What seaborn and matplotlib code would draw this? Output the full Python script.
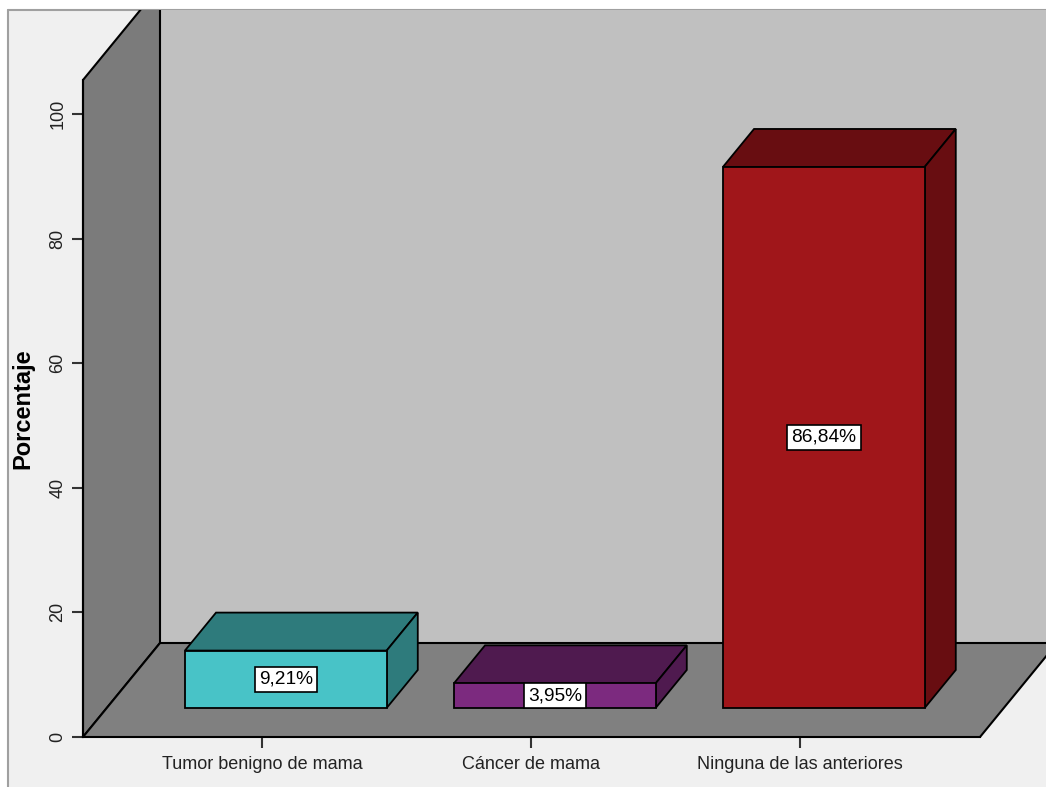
import matplotlib
matplotlib.use("Agg")
import matplotlib.pyplot as plt
import seaborn as sns
import pandas as pd
from matplotlib.patches import Polygon, Rectangle
from matplotlib.lines import Line2D

# ---- data ----
categories = ["Tumor benigno de mama", "Cáncer de mama", "Ninguna de las anteriores"]
values = [9.21, 3.95, 86.84]
value_labels = ["9,21%", "3,95%", "86,84%"]
y_ticks = [0, 20, 40, 60, 80, 100]
front_colors = ["#48c3c7", "#7c2a7f", "#a0161a"]
dark_colors = ["#2e7b7c", "#4f1a4f", "#680d11"]

sns.set_theme(style="white")
plt.rcParams["font.family"] = ["Liberation Sans", "DejaVu Sans"]

W, H = 1046, 787
fig = plt.figure(figsize=(W / 100, H / 100), dpi=100)
fig.patch.set_facecolor("white")

# frame background
frame = Rectangle((8 / W, 0), 1, (H - 10) / H, transform=fig.transFigure,
                  facecolor="#f0f0f0", edgecolor="none", zorder=-5)
fig.patches.append(frame)
fig.lines.append(Line2D([8 / W, 8 / W], [0, (H - 10) / H], transform=fig.transFigure,
                        color="#a0a0a0", lw=1.5, zorder=-4))
fig.lines.append(Line2D([8 / W, 1], [(H - 10) / H, (H - 10) / H], transform=fig.transFigure,
                        color="#a0a0a0", lw=1.5, zorder=-4))

# axes (front plane)
ax_left, ax_right, ax_bottom, ax_top = 83, 980, 737, 80
ax = fig.add_axes([ax_left / W, (H - ax_bottom) / H, (ax_right - ax_left) / W,
                   (ax_bottom - ax_top) / H])
ax.set_facecolor("none")
ax.set_zorder(1)

df = pd.DataFrame({"cat": categories, "val": values})
sns.barplot(data=df, x="cat", y="val", hue="cat", palette=front_colors, legend=False,
            width=0.75, saturation=1, edgecolor="black", linewidth=1.3, ax=ax, zorder=5)
bars = list(ax.patches)

ppx = 269.0   # pixels per category unit
ppy = 6.23    # pixels per percent
xmin = (ax_left - 262) / ppx
xmax = (ax_right - 262) / ppx
ymax = (ax_bottom - ax_top) / ppy
ax.set_xlim(xmin, xmax)
ax.set_ylim(0, ymax)

DX = 77 / ppx
DY = 94 / ppy
d1, d2 = 0.309, 0.713

def P(x, y, d):
    return (x + d * DX, y + d * DY)

# back wall
back = Polygon([P(xmin, 0, 1), P(xmax + 1, 0, 1), P(xmax + 1, ymax, 1), P(xmin, ymax, 1)],
               closed=True, facecolor="#c0c0c0", edgecolor="none", zorder=1)
ax.add_patch(back)
back.set_clip_path(frame)
# left wall
left = Polygon([P(xmin, 0, 0), P(xmin, 0, 1), P(xmin, ymax, 1), P(xmin, ymax, 0)],
               closed=True, facecolor="#7b7b7b", edgecolor="black", lw=1.5, zorder=2)
ax.add_patch(left)
left.set_clip_path(frame)
# floor
floor = Polygon([P(xmin, 0, 0), P(xmax, 0, 0), P(xmax, 0, 1), P(xmax + 1, 0, 1),
                 P(xmax + 1, 0, 1), P(xmin, 0, 1)],
                closed=True, facecolor="#808080", edgecolor="none", zorder=3)
ax.add_patch(floor)
floor.set_clip_path(frame)
for seg in ([P(xmin, 0, 1), P(xmax + 1, 0, 1)], [P(xmax, 0, 0), P(xmax, 0, 1)],
            [P(xmin, 0, 0), P(xmin, 0, 1)]):
    ln = Line2D([seg[0][0], seg[1][0]], [seg[0][1], seg[1][1]], color="black", lw=1.5, zorder=3.5)
    ax.add_line(ln)
    ln.set_clip_path(frame)

# 3D bars
for i, b in enumerate(bars):
    x0 = b.get_x()
    w = b.get_width()
    v = b.get_height()
    b.set_x(x0 + d1 * DX)
    b.set_y(d1 * DY)
    b.set_clip_on(False)
    x1 = x0 + w
    top = Polygon([P(x0, v, d1), P(x1, v, d1), P(x1, v, d2), P(x0, v, d2)], closed=True,
                  facecolor=dark_colors[i], edgecolor="black", lw=1.3, zorder=4, clip_on=False)
    side = Polygon([P(x1, 0, d1), P(x1, 0, d2), P(x1, v, d2), P(x1, v, d1)], closed=True,
                   facecolor=dark_colors[i], edgecolor="black", lw=1.3, zorder=4, clip_on=False)
    ax.add_patch(top)
    ax.add_patch(side)
    cx, cy = P(x0 + w / 2, v / 2, d1)
    ax.text(cx, cy, value_labels[i], ha="center", va="center", fontsize=13.8, color="black",
            zorder=7, bbox=dict(boxstyle="square,pad=0.22", facecolor="white",
                                edgecolor="black", lw=1.2))

# axes styling
for s in ["top", "right"]:
    ax.spines[s].set_visible(False)
for s in ["left", "bottom"]:
    ax.spines[s].set_color("black")
    ax.spines[s].set_linewidth(1.5)
    ax.spines[s].set_zorder(6)
ax.set_yticks(y_ticks)
ax.set_yticklabels([str(t) for t in y_ticks], rotation=90, va="center")
ax.tick_params(axis="y", direction="out", length=8, width=1.5, color="#333333",
               labelsize=13, pad=4, left=True, labelcolor="#222222")
ax.tick_params(axis="x", direction="out", length=8, width=1.5, color="#333333",
               labelsize=13, pad=6, bottom=True, labelcolor="#222222")
ax.set_xlabel("")
ax.set_ylabel("Porcentaje", fontsize=17, fontweight="bold", color="black")
ax.yaxis.set_label_coords(-0.054, 0.5)

fig.savefig("out.png", dpi=100, facecolor=fig.get_facecolor())
